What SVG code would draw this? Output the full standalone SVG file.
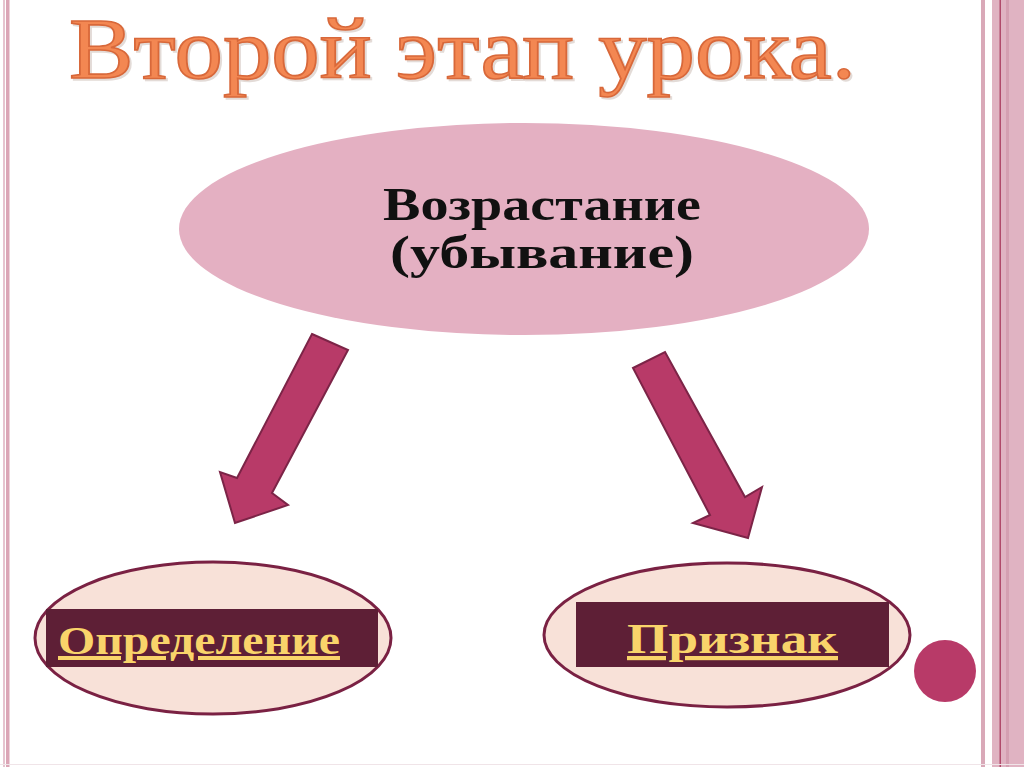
<svg xmlns="http://www.w3.org/2000/svg" width="1024" height="767" viewBox="0 0 1024 767">
  <defs>
    <style>
      .title { font-family: "Liberation Serif", "DejaVu Serif", serif; font-size: 86px; fill: #f38752; stroke: #d8683a; stroke-width: 1.6; }
      .shadow { font-family: "Liberation Serif", "DejaVu Serif", serif; font-size: 86px; fill: #c8b8b0; stroke: #c8b8b0; stroke-width: 1.6; opacity: 0.5; }
      .main { font-family: "Liberation Serif", "DejaVu Serif", serif; font-size: 46px; font-weight: bold; fill: #111; text-anchor: middle; }
      .label { font-family: "Liberation Serif", "DejaVu Serif", serif; font-weight: bold; fill: #f9d46a; text-decoration: underline; }
      .arrow { fill: #b83a68; stroke: #7c2447; stroke-width: 2; stroke-linejoin: miter; }
      .leaf { fill: #f8e1d8; stroke: #7a2143; stroke-width: 3; }
      .band { fill: #5e1f36; }
    </style>
  </defs>

  <rect x="0" y="0" width="1024" height="767" fill="#ffffff"/>

  <!-- page borders -->
  <g id="borders">
    <rect x="3" y="0" width="2" height="767" fill="#e6c4cf"/>
    <rect x="6" y="0" width="3.5" height="767" fill="#dba5b6"/>
    <rect x="981" y="0" width="4" height="767" fill="#d9a9b8"/>
    <rect x="992" y="0" width="32" height="767" fill="#e0b3c2"/>
    <rect x="1006" y="0" width="3" height="767" fill="#d49fb1"/>
    <rect x="999.5" y="0" width="1.5" height="767" fill="#b04a6a"/>
    <rect x="0" y="764" width="1024" height="1" fill="#f0e4e8"/>
  </g>

  <!-- title -->
  <g id="title">
    <text class="shadow" x="71" y="80" textLength="787" lengthAdjust="spacingAndGlyphs">Второй этап урока.</text>
    <text class="title" x="69" y="78" textLength="787" lengthAdjust="spacingAndGlyphs">Второй этап урока.</text>
  </g>

  <!-- connectors -->
  <g id="connectors">
    <polygon class="arrow" points="312,334 348,350 272,493 288,505 235,523 220,472 237,478"/>
    <polygon class="arrow" points="633,368 665,352 745,497 762,487 748,538 693,523 710,515"/>
  </g>

  <!-- main node -->
  <g id="node-main">
    <ellipse cx="524" cy="229" rx="345" ry="106" fill="#e4b0c2"/>
    <text class="main" x="542" y="220" textLength="318" lengthAdjust="spacingAndGlyphs">Возрастание</text>
    <text class="main" x="542" y="268" textLength="304" lengthAdjust="spacingAndGlyphs">(убывание)</text>
  </g>

  <!-- left node -->
  <g id="node-definition">
    <ellipse class="leaf" cx="213" cy="638" rx="178" ry="76"/>
    <rect class="band" x="46" y="609" width="332" height="58"/>
    <text class="label" x="58" y="654" font-size="40" textLength="282" lengthAdjust="spacingAndGlyphs">Определение</text>
  </g>

  <!-- right node -->
  <g id="node-feature">
    <ellipse class="leaf" cx="727" cy="635" rx="183" ry="72"/>
    <rect class="band" x="576" y="602" width="313" height="65"/>
    <text class="label" x="627" y="653" font-size="42" textLength="211" lengthAdjust="spacingAndGlyphs">Признак</text>
  </g>

  <!-- decorative dot -->
  <g id="dot">
    <circle cx="945" cy="671" r="31" fill="#b83a68"/>
  </g>
</svg>
